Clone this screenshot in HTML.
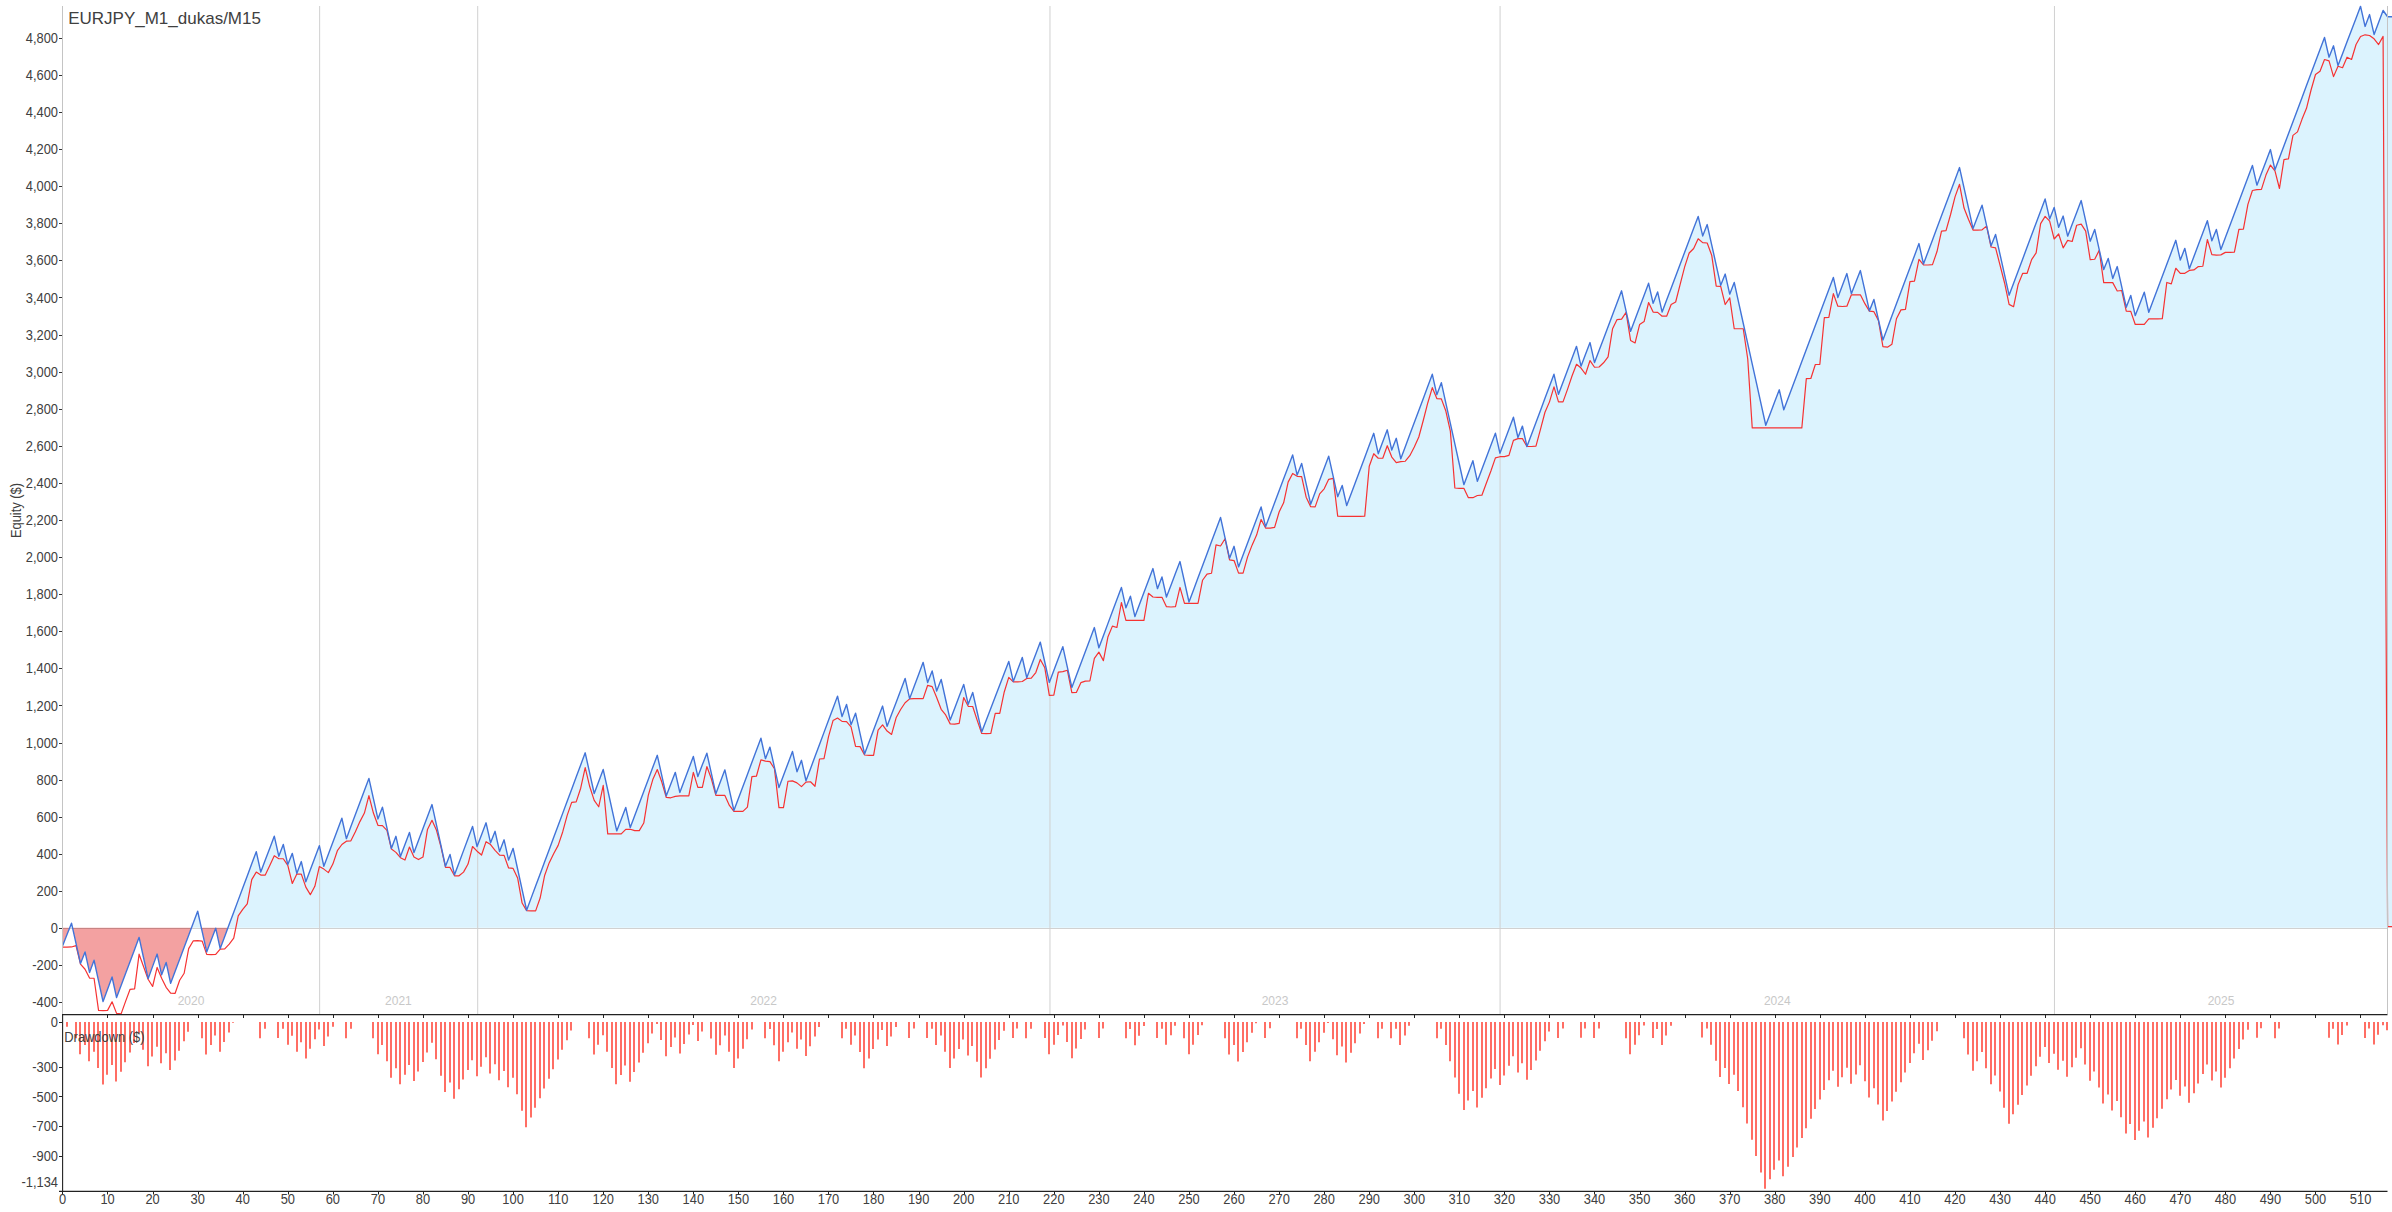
<!DOCTYPE html>
<html lang="en"><head><meta charset="utf-8"><title>EURJPY_M1_dukas/M15</title>
<style>html,body{margin:0;padding:0;background:#fff;}body{width:2392px;height:1212px;overflow:hidden;}svg{display:block;font-family:"Liberation Sans", Arial, sans-serif;}.t{font-size:14.4px;fill:#404040;}.yr{font-size:12px;fill:#c8c8c8;}</style></head><body>
<svg width="2392" height="1212" viewBox="0 0 2392 1212">
<rect width="2392" height="1212" fill="#fff"/>
<defs><clipPath id="cp"><rect x="62" y="0" width="2330" height="1014"/></clipPath><clipPath id="up"><rect x="0" y="0" width="2392" height="927.80"/></clipPath><clipPath id="dn"><rect x="0" y="927.80" width="2392" height="300"/></clipPath></defs>
<g clip-path="url(#cp)">
<path d="M62.50,927.80 L62.50,927.80 L67.01,927.80 L69.41,927.80 L71.51,922.44 L72.70,927.80 L76.02,927.80 L80.52,927.80 L85.03,927.80 L89.54,927.80 L94.04,927.80 L98.55,927.80 L103.05,927.80 L107.56,927.80 L112.07,927.80 L116.57,927.80 L121.08,927.80 L125.58,927.80 L130.09,927.80 L134.60,927.80 L139.10,927.80 L143.61,927.80 L148.11,927.80 L152.62,927.80 L157.13,927.80 L161.63,927.80 L166.14,927.80 L170.64,927.80 L175.15,927.80 L179.66,927.80 L184.16,927.80 L188.67,927.80 L191.22,927.80 L193.17,922.58 L197.68,910.57 L201.50,927.80 L202.19,927.80 L206.69,927.80 L211.20,927.80 L215.58,927.80 L215.70,927.46 L215.78,927.80 L220.21,927.80 L224.72,927.80 L227.68,927.80 L229.22,923.65 L233.73,911.54 L238.23,899.43 L242.74,887.33 L247.25,875.22 L251.75,863.11 L256.26,851.01 L260.76,871.41 L265.27,859.42 L269.78,847.44 L274.28,835.45 L278.79,855.52 L283.29,843.82 L287.80,863.88 L292.31,852.68 L296.81,872.74 L301.32,860.87 L305.82,881.11 L310.33,869.07 L314.84,857.03 L319.34,844.99 L323.85,865.55 L328.35,853.56 L332.86,841.56 L337.37,829.56 L341.87,817.56 L346.38,837.96 L350.88,825.92 L355.39,813.88 L359.90,801.84 L364.40,789.80 L368.91,777.76 L373.41,798.00 L377.92,818.23 L382.43,806.52 L386.93,827.09 L391.44,847.66 L395.94,835.62 L400.45,855.86 L404.96,843.82 L409.46,831.77 L413.97,851.84 L418.47,839.84 L422.98,827.85 L427.49,815.85 L431.99,803.85 L436.50,824.42 L441.00,844.99 L445.51,865.55 L450.02,853.68 L454.52,874.08 L459.03,862.00 L463.53,849.92 L468.04,837.84 L472.55,825.75 L477.05,845.82 L481.56,833.95 L486.06,822.08 L490.57,842.14 L495.08,830.60 L499.58,850.84 L504.09,839.13 L508.59,859.37 L513.10,847.66 L517.61,868.29 L522.11,888.91 L526.62,909.53 L531.12,897.43 L535.63,885.32 L540.14,873.21 L544.64,861.11 L549.15,849.00 L553.65,836.89 L558.16,824.78 L562.67,812.68 L567.17,800.57 L571.68,788.46 L576.18,776.36 L580.69,764.25 L585.20,752.14 L589.70,772.46 L594.21,792.78 L598.71,780.81 L603.22,768.83 L607.73,789.29 L612.23,809.75 L616.74,830.20 L621.24,818.50 L625.75,806.79 L630.26,826.86 L634.76,814.82 L639.27,802.78 L643.77,790.74 L648.28,778.70 L652.79,766.66 L657.29,754.62 L661.80,774.85 L666.30,795.09 L670.81,783.38 L675.32,771.67 L679.82,791.74 L684.33,779.76 L688.83,767.77 L693.34,755.79 L697.85,775.86 L702.35,764.15 L706.86,752.44 L711.36,772.76 L715.87,793.08 L720.38,781.12 L724.88,769.17 L729.39,789.48 L733.89,809.80 L738.40,797.76 L742.91,785.72 L747.41,773.68 L751.92,761.64 L756.42,749.60 L760.93,737.56 L765.44,757.96 L769.94,746.42 L774.45,766.66 L778.95,786.89 L783.46,774.85 L787.97,762.81 L792.47,750.77 L796.98,771.01 L801.48,759.63 L805.99,780.04 L810.50,767.95 L815.00,755.86 L819.51,743.77 L824.01,731.68 L828.52,719.60 L833.03,707.51 L837.53,695.42 L842.04,715.82 L846.54,703.78 L851.05,724.02 L855.56,712.48 L860.06,732.88 L864.57,753.28 L869.07,741.30 L873.58,729.33 L878.09,717.35 L882.59,705.37 L887.10,725.60 L891.60,713.64 L896.11,701.68 L900.62,689.72 L905.12,677.76 L909.63,697.93 L914.13,685.84 L918.64,673.75 L923.15,661.66 L927.65,681.84 L932.16,670.23 L936.66,690.40 L941.17,678.72 L945.68,699.03 L950.18,719.33 L954.69,707.47 L959.19,695.61 L963.70,683.75 L968.21,703.61 L972.71,691.77 L977.22,711.52 L981.72,731.26 L986.23,719.50 L990.74,707.74 L995.24,695.99 L999.75,684.23 L1004.25,672.48 L1008.76,660.72 L1013.27,680.74 L1017.77,668.76 L1022.28,656.79 L1026.78,677.04 L1031.29,665.17 L1035.80,653.30 L1040.30,641.42 L1044.81,661.57 L1049.31,681.72 L1053.82,669.80 L1058.33,657.87 L1062.83,645.94 L1067.34,666.34 L1071.84,686.74 L1076.35,674.77 L1080.86,662.79 L1085.36,650.82 L1089.87,638.85 L1094.37,626.88 L1098.88,647.03 L1103.39,634.97 L1107.89,622.92 L1112.40,610.87 L1116.90,598.81 L1121.41,586.76 L1125.92,607.16 L1130.42,595.45 L1134.93,615.86 L1139.43,603.86 L1143.94,591.86 L1148.45,579.86 L1152.95,567.86 L1157.46,587.93 L1161.96,576.22 L1166.47,596.29 L1170.98,584.47 L1175.48,572.66 L1179.99,560.84 L1184.49,581.07 L1189.00,601.31 L1193.51,589.22 L1198.01,577.13 L1202.52,565.04 L1207.02,552.96 L1211.53,540.87 L1216.04,528.78 L1220.54,516.69 L1225.05,537.09 L1229.55,557.49 L1234.06,545.62 L1238.57,566.19 L1243.07,554.20 L1247.58,542.22 L1252.08,530.23 L1256.59,518.24 L1261.10,506.26 L1265.60,526.16 L1270.11,514.16 L1274.61,502.17 L1279.12,490.17 L1283.63,478.17 L1288.13,466.18 L1292.64,454.18 L1297.14,474.42 L1301.65,462.71 L1306.16,483.11 L1310.66,503.51 L1315.17,491.52 L1319.67,479.52 L1324.18,467.52 L1328.69,455.52 L1333.19,475.75 L1337.70,495.99 L1342.20,484.78 L1346.71,504.85 L1351.22,492.81 L1355.72,480.77 L1360.23,468.73 L1364.73,456.69 L1369.24,444.65 L1373.75,432.61 L1378.25,453.01 L1382.76,441.06 L1387.26,429.10 L1391.77,449.33 L1396.28,437.63 L1400.78,458.03 L1405.29,445.97 L1409.79,433.90 L1414.30,421.84 L1418.81,409.77 L1423.31,397.71 L1427.82,385.64 L1432.32,373.58 L1436.83,393.98 L1441.34,381.94 L1445.84,402.34 L1450.35,422.74 L1454.85,443.15 L1459.36,463.55 L1463.87,483.95 L1468.37,471.99 L1472.88,460.04 L1477.38,480.60 L1481.89,468.56 L1486.40,456.52 L1490.90,444.48 L1495.41,432.44 L1499.91,452.51 L1504.42,440.53 L1508.93,428.54 L1513.43,416.56 L1517.94,436.79 L1522.44,425.42 L1526.95,445.82 L1531.46,433.78 L1535.96,421.74 L1540.47,409.70 L1544.97,397.66 L1549.48,385.62 L1553.99,373.58 L1558.49,393.65 L1563.00,381.65 L1567.50,369.65 L1572.01,357.65 L1576.52,345.65 L1581.02,365.45 L1585.53,353.66 L1590.03,341.88 L1594.54,361.86 L1599.05,349.90 L1603.55,337.94 L1608.06,325.98 L1612.56,314.02 L1617.07,302.06 L1621.58,290.10 L1626.08,310.34 L1630.59,330.57 L1635.09,318.57 L1639.60,306.57 L1644.11,294.58 L1648.61,282.58 L1653.12,302.64 L1657.62,291.27 L1662.13,311.34 L1666.64,299.38 L1671.14,287.43 L1675.65,275.47 L1680.15,263.51 L1684.66,251.56 L1689.17,239.60 L1693.67,227.64 L1698.18,215.69 L1702.68,235.25 L1707.19,223.88 L1711.70,244.12 L1716.20,264.35 L1720.71,284.58 L1725.21,273.38 L1729.72,293.45 L1734.23,281.74 L1738.73,302.14 L1743.24,322.54 L1747.74,342.95 L1752.25,363.35 L1756.76,383.75 L1761.26,404.15 L1765.77,424.55 L1770.27,412.73 L1774.78,400.92 L1779.29,389.10 L1783.79,409.03 L1788.30,397.00 L1792.80,384.98 L1797.31,372.95 L1801.82,360.92 L1806.32,348.89 L1810.83,336.86 L1815.33,324.84 L1819.84,312.81 L1824.35,300.78 L1828.85,288.75 L1833.36,276.72 L1837.86,296.79 L1842.37,284.84 L1846.88,272.88 L1851.38,292.95 L1855.89,281.41 L1860.39,269.87 L1864.90,290.02 L1869.41,310.17 L1873.91,298.80 L1878.42,319.03 L1882.92,339.27 L1887.43,327.22 L1891.94,315.17 L1896.44,303.12 L1900.95,291.07 L1905.45,279.02 L1909.96,266.98 L1914.47,254.93 L1918.97,242.88 L1923.48,263.28 L1927.98,251.23 L1932.49,239.18 L1937.00,227.13 L1941.50,215.09 L1946.01,203.04 L1950.51,190.99 L1955.02,178.94 L1959.53,166.89 L1964.03,187.20 L1968.54,207.52 L1973.04,227.83 L1977.55,216.17 L1982.06,204.52 L1986.56,224.75 L1991.07,244.99 L1995.57,233.78 L2000.08,254.02 L2004.59,274.25 L2009.09,294.48 L2013.60,282.46 L2018.10,270.45 L2022.61,258.43 L2027.12,246.41 L2031.62,234.39 L2036.13,222.37 L2040.63,210.35 L2045.14,198.33 L2049.65,218.23 L2054.15,206.69 L2058.66,226.59 L2063.16,215.39 L2067.67,235.45 L2072.18,223.58 L2076.68,211.71 L2081.19,199.84 L2085.69,220.15 L2090.20,240.47 L2094.71,228.76 L2099.21,248.83 L2103.72,268.90 L2108.22,257.69 L2112.73,277.76 L2117.24,265.89 L2121.74,286.21 L2126.25,306.52 L2130.75,294.82 L2135.26,314.89 L2139.77,303.18 L2144.27,291.47 L2148.78,311.54 L2153.28,299.56 L2157.79,287.57 L2162.30,275.59 L2166.80,263.60 L2171.31,251.62 L2175.81,239.63 L2180.32,259.37 L2184.83,247.66 L2189.33,268.06 L2193.84,256.06 L2198.34,244.07 L2202.85,232.07 L2207.36,220.07 L2211.86,240.14 L2216.37,228.76 L2220.87,248.83 L2225.38,236.82 L2229.89,224.80 L2234.39,212.78 L2238.90,200.77 L2243.40,188.75 L2247.91,176.73 L2252.42,164.72 L2256.92,184.45 L2261.43,172.58 L2265.93,160.70 L2270.44,148.83 L2274.95,169.07 L2279.45,157.04 L2283.96,145.02 L2288.46,133.00 L2292.97,120.97 L2297.48,108.95 L2301.98,96.93 L2306.49,84.90 L2310.99,72.88 L2315.50,60.86 L2320.01,48.83 L2324.51,36.81 L2329.02,56.49 L2333.52,45.12 L2338.03,64.85 L2342.54,53.01 L2347.04,41.17 L2351.55,29.33 L2356.05,17.49 L2360.56,5.65 L2365.07,25.72 L2369.57,13.88 L2374.08,33.75 L2378.58,21.77 L2383.09,9.80 L2387.60,16.02 L2392.00,16.02 L2392,927.80 Z" fill="#DCF3FE"/>
<path d="M62.50,927.80 L62.50,945.35 L67.01,933.90 L69.41,927.80 L71.51,927.80 L72.70,927.80 L76.02,942.68 L80.52,962.91 L85.03,951.21 L89.54,971.77 L94.04,959.57 L98.55,980.22 L103.05,1000.87 L107.56,988.58 L112.07,976.29 L116.57,996.86 L121.08,984.82 L125.58,972.78 L130.09,960.74 L134.60,948.70 L139.10,936.66 L143.61,957.31 L148.11,977.96 L152.62,965.67 L157.13,953.38 L161.63,974.12 L166.14,961.74 L170.64,982.64 L175.15,970.63 L179.66,958.62 L184.16,946.61 L188.67,934.60 L191.22,927.80 L193.17,927.80 L197.68,927.80 L201.50,927.80 L202.19,930.89 L206.69,951.21 L211.20,939.33 L215.58,927.80 L215.70,927.80 L215.78,927.80 L220.21,947.86 L224.72,935.75 L227.68,927.80 L229.22,927.80 L233.73,927.80 L238.23,927.80 L242.74,927.80 L247.25,927.80 L251.75,927.80 L256.26,927.80 L260.76,927.80 L265.27,927.80 L269.78,927.80 L274.28,927.80 L278.79,927.80 L283.29,927.80 L287.80,927.80 L292.31,927.80 L296.81,927.80 L301.32,927.80 L305.82,927.80 L310.33,927.80 L314.84,927.80 L319.34,927.80 L323.85,927.80 L328.35,927.80 L332.86,927.80 L337.37,927.80 L341.87,927.80 L346.38,927.80 L350.88,927.80 L355.39,927.80 L359.90,927.80 L364.40,927.80 L368.91,927.80 L373.41,927.80 L377.92,927.80 L382.43,927.80 L386.93,927.80 L391.44,927.80 L395.94,927.80 L400.45,927.80 L404.96,927.80 L409.46,927.80 L413.97,927.80 L418.47,927.80 L422.98,927.80 L427.49,927.80 L431.99,927.80 L436.50,927.80 L441.00,927.80 L445.51,927.80 L450.02,927.80 L454.52,927.80 L459.03,927.80 L463.53,927.80 L468.04,927.80 L472.55,927.80 L477.05,927.80 L481.56,927.80 L486.06,927.80 L490.57,927.80 L495.08,927.80 L499.58,927.80 L504.09,927.80 L508.59,927.80 L513.10,927.80 L517.61,927.80 L522.11,927.80 L526.62,927.80 L531.12,927.80 L535.63,927.80 L540.14,927.80 L544.64,927.80 L549.15,927.80 L553.65,927.80 L558.16,927.80 L562.67,927.80 L567.17,927.80 L571.68,927.80 L576.18,927.80 L580.69,927.80 L585.20,927.80 L589.70,927.80 L594.21,927.80 L598.71,927.80 L603.22,927.80 L607.73,927.80 L612.23,927.80 L616.74,927.80 L621.24,927.80 L625.75,927.80 L630.26,927.80 L634.76,927.80 L639.27,927.80 L643.77,927.80 L648.28,927.80 L652.79,927.80 L657.29,927.80 L661.80,927.80 L666.30,927.80 L670.81,927.80 L675.32,927.80 L679.82,927.80 L684.33,927.80 L688.83,927.80 L693.34,927.80 L697.85,927.80 L702.35,927.80 L706.86,927.80 L711.36,927.80 L715.87,927.80 L720.38,927.80 L724.88,927.80 L729.39,927.80 L733.89,927.80 L738.40,927.80 L742.91,927.80 L747.41,927.80 L751.92,927.80 L756.42,927.80 L760.93,927.80 L765.44,927.80 L769.94,927.80 L774.45,927.80 L778.95,927.80 L783.46,927.80 L787.97,927.80 L792.47,927.80 L796.98,927.80 L801.48,927.80 L805.99,927.80 L810.50,927.80 L815.00,927.80 L819.51,927.80 L824.01,927.80 L828.52,927.80 L833.03,927.80 L837.53,927.80 L842.04,927.80 L846.54,927.80 L851.05,927.80 L855.56,927.80 L860.06,927.80 L864.57,927.80 L869.07,927.80 L873.58,927.80 L878.09,927.80 L882.59,927.80 L887.10,927.80 L891.60,927.80 L896.11,927.80 L900.62,927.80 L905.12,927.80 L909.63,927.80 L914.13,927.80 L918.64,927.80 L923.15,927.80 L927.65,927.80 L932.16,927.80 L936.66,927.80 L941.17,927.80 L945.68,927.80 L950.18,927.80 L954.69,927.80 L959.19,927.80 L963.70,927.80 L968.21,927.80 L972.71,927.80 L977.22,927.80 L981.72,927.80 L986.23,927.80 L990.74,927.80 L995.24,927.80 L999.75,927.80 L1004.25,927.80 L1008.76,927.80 L1013.27,927.80 L1017.77,927.80 L1022.28,927.80 L1026.78,927.80 L1031.29,927.80 L1035.80,927.80 L1040.30,927.80 L1044.81,927.80 L1049.31,927.80 L1053.82,927.80 L1058.33,927.80 L1062.83,927.80 L1067.34,927.80 L1071.84,927.80 L1076.35,927.80 L1080.86,927.80 L1085.36,927.80 L1089.87,927.80 L1094.37,927.80 L1098.88,927.80 L1103.39,927.80 L1107.89,927.80 L1112.40,927.80 L1116.90,927.80 L1121.41,927.80 L1125.92,927.80 L1130.42,927.80 L1134.93,927.80 L1139.43,927.80 L1143.94,927.80 L1148.45,927.80 L1152.95,927.80 L1157.46,927.80 L1161.96,927.80 L1166.47,927.80 L1170.98,927.80 L1175.48,927.80 L1179.99,927.80 L1184.49,927.80 L1189.00,927.80 L1193.51,927.80 L1198.01,927.80 L1202.52,927.80 L1207.02,927.80 L1211.53,927.80 L1216.04,927.80 L1220.54,927.80 L1225.05,927.80 L1229.55,927.80 L1234.06,927.80 L1238.57,927.80 L1243.07,927.80 L1247.58,927.80 L1252.08,927.80 L1256.59,927.80 L1261.10,927.80 L1265.60,927.80 L1270.11,927.80 L1274.61,927.80 L1279.12,927.80 L1283.63,927.80 L1288.13,927.80 L1292.64,927.80 L1297.14,927.80 L1301.65,927.80 L1306.16,927.80 L1310.66,927.80 L1315.17,927.80 L1319.67,927.80 L1324.18,927.80 L1328.69,927.80 L1333.19,927.80 L1337.70,927.80 L1342.20,927.80 L1346.71,927.80 L1351.22,927.80 L1355.72,927.80 L1360.23,927.80 L1364.73,927.80 L1369.24,927.80 L1373.75,927.80 L1378.25,927.80 L1382.76,927.80 L1387.26,927.80 L1391.77,927.80 L1396.28,927.80 L1400.78,927.80 L1405.29,927.80 L1409.79,927.80 L1414.30,927.80 L1418.81,927.80 L1423.31,927.80 L1427.82,927.80 L1432.32,927.80 L1436.83,927.80 L1441.34,927.80 L1445.84,927.80 L1450.35,927.80 L1454.85,927.80 L1459.36,927.80 L1463.87,927.80 L1468.37,927.80 L1472.88,927.80 L1477.38,927.80 L1481.89,927.80 L1486.40,927.80 L1490.90,927.80 L1495.41,927.80 L1499.91,927.80 L1504.42,927.80 L1508.93,927.80 L1513.43,927.80 L1517.94,927.80 L1522.44,927.80 L1526.95,927.80 L1531.46,927.80 L1535.96,927.80 L1540.47,927.80 L1544.97,927.80 L1549.48,927.80 L1553.99,927.80 L1558.49,927.80 L1563.00,927.80 L1567.50,927.80 L1572.01,927.80 L1576.52,927.80 L1581.02,927.80 L1585.53,927.80 L1590.03,927.80 L1594.54,927.80 L1599.05,927.80 L1603.55,927.80 L1608.06,927.80 L1612.56,927.80 L1617.07,927.80 L1621.58,927.80 L1626.08,927.80 L1630.59,927.80 L1635.09,927.80 L1639.60,927.80 L1644.11,927.80 L1648.61,927.80 L1653.12,927.80 L1657.62,927.80 L1662.13,927.80 L1666.64,927.80 L1671.14,927.80 L1675.65,927.80 L1680.15,927.80 L1684.66,927.80 L1689.17,927.80 L1693.67,927.80 L1698.18,927.80 L1702.68,927.80 L1707.19,927.80 L1711.70,927.80 L1716.20,927.80 L1720.71,927.80 L1725.21,927.80 L1729.72,927.80 L1734.23,927.80 L1738.73,927.80 L1743.24,927.80 L1747.74,927.80 L1752.25,927.80 L1756.76,927.80 L1761.26,927.80 L1765.77,927.80 L1770.27,927.80 L1774.78,927.80 L1779.29,927.80 L1783.79,927.80 L1788.30,927.80 L1792.80,927.80 L1797.31,927.80 L1801.82,927.80 L1806.32,927.80 L1810.83,927.80 L1815.33,927.80 L1819.84,927.80 L1824.35,927.80 L1828.85,927.80 L1833.36,927.80 L1837.86,927.80 L1842.37,927.80 L1846.88,927.80 L1851.38,927.80 L1855.89,927.80 L1860.39,927.80 L1864.90,927.80 L1869.41,927.80 L1873.91,927.80 L1878.42,927.80 L1882.92,927.80 L1887.43,927.80 L1891.94,927.80 L1896.44,927.80 L1900.95,927.80 L1905.45,927.80 L1909.96,927.80 L1914.47,927.80 L1918.97,927.80 L1923.48,927.80 L1927.98,927.80 L1932.49,927.80 L1937.00,927.80 L1941.50,927.80 L1946.01,927.80 L1950.51,927.80 L1955.02,927.80 L1959.53,927.80 L1964.03,927.80 L1968.54,927.80 L1973.04,927.80 L1977.55,927.80 L1982.06,927.80 L1986.56,927.80 L1991.07,927.80 L1995.57,927.80 L2000.08,927.80 L2004.59,927.80 L2009.09,927.80 L2013.60,927.80 L2018.10,927.80 L2022.61,927.80 L2027.12,927.80 L2031.62,927.80 L2036.13,927.80 L2040.63,927.80 L2045.14,927.80 L2049.65,927.80 L2054.15,927.80 L2058.66,927.80 L2063.16,927.80 L2067.67,927.80 L2072.18,927.80 L2076.68,927.80 L2081.19,927.80 L2085.69,927.80 L2090.20,927.80 L2094.71,927.80 L2099.21,927.80 L2103.72,927.80 L2108.22,927.80 L2112.73,927.80 L2117.24,927.80 L2121.74,927.80 L2126.25,927.80 L2130.75,927.80 L2135.26,927.80 L2139.77,927.80 L2144.27,927.80 L2148.78,927.80 L2153.28,927.80 L2157.79,927.80 L2162.30,927.80 L2166.80,927.80 L2171.31,927.80 L2175.81,927.80 L2180.32,927.80 L2184.83,927.80 L2189.33,927.80 L2193.84,927.80 L2198.34,927.80 L2202.85,927.80 L2207.36,927.80 L2211.86,927.80 L2216.37,927.80 L2220.87,927.80 L2225.38,927.80 L2229.89,927.80 L2234.39,927.80 L2238.90,927.80 L2243.40,927.80 L2247.91,927.80 L2252.42,927.80 L2256.92,927.80 L2261.43,927.80 L2265.93,927.80 L2270.44,927.80 L2274.95,927.80 L2279.45,927.80 L2283.96,927.80 L2288.46,927.80 L2292.97,927.80 L2297.48,927.80 L2301.98,927.80 L2306.49,927.80 L2310.99,927.80 L2315.50,927.80 L2320.01,927.80 L2324.51,927.80 L2329.02,927.80 L2333.52,927.80 L2338.03,927.80 L2342.54,927.80 L2347.04,927.80 L2351.55,927.80 L2356.05,927.80 L2360.56,927.80 L2365.07,927.80 L2369.57,927.80 L2374.08,927.80 L2378.58,927.80 L2383.09,927.80 L2387.60,927.80 L2392.00,927.80 L2392,927.80 Z" fill="#F3A1A1"/>
</g>
<rect x="62" y="928" width="2325.5" height="1" fill="#000" fill-opacity="0.18"/>
<line x1="319.65" x2="319.65" y1="6" y2="1014" stroke="#d0d0d0" stroke-width="1"/>
<line x1="477.70" x2="477.70" y1="6" y2="1014" stroke="#d0d0d0" stroke-width="1"/>
<line x1="1049.97" x2="1049.97" y1="6" y2="1014" stroke="#d0d0d0" stroke-width="1"/>
<line x1="1500.07" x2="1500.07" y1="6" y2="1014" stroke="#d0d0d0" stroke-width="1"/>
<line x1="2054.45" x2="2054.45" y1="6" y2="1014" stroke="#d0d0d0" stroke-width="1"/>
<text class="yr" x="191.0" y="1005" text-anchor="middle">2020</text>
<text class="yr" x="398.4" y="1005" text-anchor="middle">2021</text>
<text class="yr" x="763.6" y="1005" text-anchor="middle">2022</text>
<text class="yr" x="1275.0" y="1005" text-anchor="middle">2023</text>
<text class="yr" x="1777.3" y="1005" text-anchor="middle">2024</text>
<text class="yr" x="2221.0" y="1005" text-anchor="middle">2025</text>
<g clip-path="url(#cp)" fill="none" stroke-linejoin="round">
<polyline points="62.50,947.16 67.01,947.16 71.51,946.96 76.02,945.65 80.52,964.21 85.03,969.23 89.54,978.06 94.04,978.26 98.55,1010.37 103.05,1010.57 107.56,1010.37 112.07,1001.84 116.57,1013.38 121.08,1013.88 125.58,1001.34 130.09,989.30 134.60,988.80 139.10,954.18 143.61,966.72 148.11,979.26 152.62,986.49 157.13,967.42 161.63,978.26 166.14,987.29 170.64,993.11 175.15,993.31 179.66,980.27 184.16,973.24 188.67,948.66 193.17,940.94 197.68,940.64 202.19,941.14 206.69,954.38 211.20,954.68 215.70,954.38 220.21,949.16 224.72,948.96 229.22,944.15 233.73,938.13 238.23,915.88 242.74,909.29 247.25,903.96 251.75,879.63 256.26,872.11 260.76,875.12 265.27,875.12 269.78,865.42 274.28,855.72 278.79,858.73 283.29,858.73 287.80,865.42 292.31,883.48 296.81,874.11 301.32,874.11 305.82,887.16 310.33,894.68 314.84,886.32 319.34,866.59 323.85,869.10 328.35,872.61 332.86,864.08 337.37,850.70 341.87,844.52 346.38,841.17 350.88,840.84 355.39,831.64 359.90,821.61 364.40,813.08 368.91,795.69 373.41,813.08 377.92,825.28 382.43,825.62 386.93,830.30 391.44,849.03 395.94,852.37 400.45,857.73 404.96,860.07 409.46,847.02 413.97,857.06 418.47,859.57 422.98,857.06 427.49,829.46 431.99,820.27 436.50,830.30 441.00,847.02 445.51,867.42 450.02,867.42 454.52,875.79 459.03,875.79 463.53,872.11 468.04,864.08 472.55,846.52 477.05,851.20 481.56,855.05 486.06,841.67 490.57,844.52 495.08,850.37 499.58,855.05 504.09,855.38 508.59,867.93 513.10,868.43 517.61,877.96 522.11,903.04 526.62,910.57 531.12,910.90 535.63,910.90 540.14,898.03 544.64,875.45 549.15,862.91 553.65,853.71 558.16,845.35 562.67,831.94 567.17,815.38 571.68,802.42 576.18,801.84 580.69,788.21 585.20,767.56 589.70,786.54 594.21,800.33 598.71,806.77 603.22,785.42 607.73,833.91 612.23,833.91 616.74,833.91 621.24,833.91 625.75,829.40 630.26,829.23 634.76,830.57 639.27,830.57 643.77,823.04 648.28,795.45 652.79,779.57 657.29,769.53 661.80,782.07 666.30,797.46 670.81,797.79 675.32,796.45 679.82,795.79 684.33,795.79 688.83,795.79 693.34,772.37 697.85,787.42 702.35,787.42 706.86,766.52 711.36,778.73 715.87,795.45 720.38,795.45 724.88,795.45 729.39,805.48 733.89,811.34 738.40,811.34 742.91,811.34 747.41,807.16 751.92,776.56 756.42,776.22 760.93,759.83 765.44,761.17 769.94,761.67 774.45,768.70 778.95,807.66 783.46,807.66 787.97,781.24 792.47,780.90 796.98,782.91 801.48,786.59 805.99,782.07 810.50,781.74 815.00,786.25 819.51,759.00 824.01,758.66 828.52,736.59 833.03,720.54 837.53,718.03 842.04,721.37 846.54,721.54 851.05,726.89 855.56,746.45 860.06,746.62 864.57,754.98 869.07,755.32 873.58,755.32 878.09,730.23 882.59,724.88 887.10,731.07 891.60,734.41 896.11,717.80 900.62,709.52 905.12,702.75 909.63,698.86 914.13,698.67 918.64,698.67 923.15,698.61 927.65,685.31 932.16,686.63 936.66,697.42 941.17,709.33 945.68,714.97 950.18,723.88 954.69,724.07 959.19,723.44 963.70,697.49 968.21,706.32 972.71,706.52 977.22,720.37 981.72,733.51 986.23,733.71 990.74,733.51 995.24,713.40 999.75,713.32 1004.25,691.97 1008.76,677.36 1013.27,681.81 1017.77,681.81 1022.28,681.50 1026.78,678.49 1031.29,678.05 1035.80,672.53 1040.30,659.49 1044.81,667.83 1049.31,695.36 1053.82,695.23 1058.33,672.09 1062.83,671.66 1067.34,670.21 1071.84,692.54 1076.35,692.41 1080.86,682.69 1085.36,681.12 1089.87,681.00 1094.37,658.42 1098.88,652.15 1103.39,660.62 1107.89,637.10 1112.40,626.13 1116.90,627.51 1121.41,602.51 1125.92,620.40 1130.42,620.40 1134.93,620.40 1139.43,620.40 1143.94,620.40 1148.45,593.31 1152.95,596.99 1157.46,597.32 1161.96,597.32 1166.47,606.69 1170.98,607.02 1175.48,606.69 1179.99,587.46 1184.49,603.34 1189.00,603.34 1193.51,603.34 1198.01,603.34 1202.52,580.27 1207.02,574.08 1211.53,573.24 1216.04,544.82 1220.54,545.99 1225.05,538.80 1229.55,559.87 1234.06,560.54 1238.57,573.08 1243.07,573.08 1247.58,556.86 1252.08,545.15 1256.59,535.12 1261.10,519.50 1265.60,528.03 1270.11,528.19 1274.61,527.44 1279.12,511.97 1283.63,502.78 1288.13,482.14 1292.64,473.44 1297.14,476.29 1301.65,476.62 1306.16,497.19 1310.66,506.72 1315.17,506.89 1319.67,493.85 1324.18,488.83 1328.69,479.30 1333.19,478.29 1337.70,516.09 1342.20,516.42 1346.71,516.42 1351.22,516.42 1355.72,516.42 1360.23,516.42 1364.73,516.09 1369.24,466.25 1373.75,453.71 1378.25,458.23 1382.76,458.23 1387.26,445.69 1391.77,457.06 1396.28,462.58 1400.78,461.57 1405.29,461.24 1409.79,455.72 1414.30,447.02 1418.81,436.99 1423.31,420.27 1427.82,402.71 1432.32,387.66 1436.83,398.53 1441.34,398.86 1445.84,411.07 1450.35,431.14 1454.85,487.99 1459.36,488.33 1463.87,488.33 1468.37,497.69 1472.88,497.69 1477.38,495.52 1481.89,495.18 1486.40,482.98 1490.90,470.94 1495.41,457.89 1499.91,456.72 1504.42,456.56 1508.93,455.38 1513.43,440.33 1517.94,438.66 1522.44,438.66 1526.95,446.52 1531.46,446.52 1535.96,446.19 1540.47,429.46 1544.97,412.24 1549.48,401.87 1553.99,386.82 1558.49,401.87 1563.00,401.87 1567.50,389.33 1572.01,375.95 1576.52,364.25 1581.02,368.08 1585.53,374.26 1590.03,360.55 1594.54,367.24 1599.05,366.99 1603.55,362.81 1608.06,356.96 1612.56,328.76 1617.07,319.57 1621.58,319.06 1626.08,312.37 1630.59,340.47 1635.09,342.98 1639.60,324.58 1644.11,321.57 1648.61,302.51 1653.12,312.04 1657.62,312.37 1662.13,316.22 1666.64,316.22 1671.14,304.52 1675.65,302.01 1680.15,284.45 1684.66,266.89 1689.17,253.01 1693.67,248.49 1698.18,238.80 1702.68,242.64 1707.19,242.98 1711.70,255.18 1716.20,286.12 1720.71,286.45 1725.21,304.52 1729.72,297.83 1734.23,328.76 1738.73,328.76 1743.24,328.76 1747.74,358.98 1752.25,427.93 1756.76,427.93 1761.26,427.93 1765.77,427.93 1770.27,427.93 1774.78,427.93 1779.29,427.93 1783.79,427.93 1788.30,427.93 1792.80,427.93 1797.31,427.93 1801.82,427.93 1806.32,378.62 1810.83,378.52 1815.33,364.48 1819.84,364.29 1824.35,317.56 1828.85,317.39 1833.36,293.65 1837.86,306.19 1842.37,306.52 1846.88,306.19 1851.38,294.82 1855.89,294.82 1860.39,294.82 1864.90,303.68 1869.41,311.20 1873.91,311.71 1878.42,320.40 1882.92,346.66 1887.43,347.16 1891.94,344.15 1896.44,318.73 1900.95,309.88 1905.45,309.46 1909.96,281.54 1914.47,281.20 1918.97,259.30 1923.48,264.90 1927.98,264.98 1932.49,264.65 1937.00,251.52 1941.50,231.04 1946.01,230.70 1950.51,214.73 1955.02,196.86 1959.53,184.31 1964.03,208.04 1968.54,219.58 1973.04,230.03 1977.55,230.03 1982.06,229.80 1986.56,226.12 1991.07,247.02 1995.57,247.86 2000.08,265.42 2004.59,282.98 2009.09,304.38 2013.60,306.72 2018.10,284.65 2022.61,273.44 2027.12,273.28 2031.62,259.57 2036.13,252.88 2040.63,223.61 2045.14,216.42 2049.65,221.10 2054.15,239.00 2058.66,233.98 2063.16,247.86 2067.67,240.33 2072.18,241.51 2076.68,225.28 2081.19,224.11 2085.69,231.14 2090.20,259.57 2094.71,259.23 2099.21,250.37 2103.72,282.64 2108.22,282.64 2112.73,282.64 2117.24,291.00 2121.74,290.50 2126.25,311.07 2130.75,311.40 2135.26,324.45 2139.77,324.45 2144.27,324.28 2148.78,318.93 2153.28,318.93 2157.79,318.93 2162.30,318.60 2166.80,282.47 2171.31,283.81 2175.81,268.26 2180.32,273.28 2184.83,273.28 2189.33,270.43 2193.84,269.93 2198.34,266.59 2202.85,266.25 2207.36,239.50 2211.86,254.55 2216.37,255.05 2220.87,254.88 2225.38,252.37 2229.89,252.37 2234.39,252.04 2238.90,229.46 2243.40,229.13 2247.91,204.38 2252.42,190.50 2256.92,189.67 2261.43,189.33 2265.93,175.12 2270.44,165.08 2274.95,170.94 2279.45,188.49 2283.96,159.57 2288.46,158.90 2292.97,135.38 2297.48,131.87 2301.98,119.33 2306.49,108.29 2310.99,90.23 2315.50,74.54 2320.01,71.21 2324.51,59.49 2329.02,60.86 2333.52,76.63 2338.03,66.27 2342.54,67.76 2347.04,57.24 2351.55,59.49 2356.05,44.52 2360.56,36.49 2365.07,34.81 2369.57,35.49 2374.08,38.82 2378.58,44.52 2383.09,36.41 2387.60,926.65 2392,926.65" stroke="#F63232" stroke-width="1.2"/>
<polyline points="62.50,946.05 67.01,934.60 71.51,923.14 76.02,943.38 80.52,963.61 85.03,951.91 89.54,972.47 94.04,960.27 98.55,980.92 103.05,1001.57 107.56,989.28 112.07,976.99 116.57,997.56 121.08,985.52 125.58,973.48 130.09,961.44 134.60,949.40 139.10,937.36 143.61,958.01 148.11,978.66 152.62,966.37 157.13,954.08 161.63,974.82 166.14,962.44 170.64,983.34 175.15,971.33 179.66,959.32 184.16,947.31 188.67,935.30 193.17,923.28 197.68,911.27 202.19,931.59 206.69,951.91 211.20,940.03 215.70,928.16 220.21,948.56 224.72,936.45 229.22,924.35 233.73,912.24 238.23,900.13 242.74,888.03 247.25,875.92 251.75,863.81 256.26,851.71 260.76,872.11 265.27,860.12 269.78,848.14 274.28,836.15 278.79,856.22 283.29,844.52 287.80,864.58 292.31,853.38 296.81,873.44 301.32,861.57 305.82,881.81 310.33,869.77 314.84,857.73 319.34,845.69 323.85,866.25 328.35,854.26 332.86,842.26 337.37,830.26 341.87,818.26 346.38,838.66 350.88,826.62 355.39,814.58 359.90,802.54 364.40,790.50 368.91,778.46 373.41,798.70 377.92,818.93 382.43,807.22 386.93,827.79 391.44,848.36 395.94,836.32 400.45,856.56 404.96,844.52 409.46,832.47 413.97,852.54 418.47,840.54 422.98,828.55 427.49,816.55 431.99,804.55 436.50,825.12 441.00,845.69 445.51,866.25 450.02,854.38 454.52,874.78 459.03,862.70 463.53,850.62 468.04,838.54 472.55,826.45 477.05,846.52 481.56,834.65 486.06,822.78 490.57,842.84 495.08,831.30 499.58,851.54 504.09,839.83 508.59,860.07 513.10,848.36 517.61,868.99 522.11,889.61 526.62,910.23 531.12,898.13 535.63,886.02 540.14,873.91 544.64,861.81 549.15,849.70 553.65,837.59 558.16,825.48 562.67,813.38 567.17,801.27 571.68,789.16 576.18,777.06 580.69,764.95 585.20,752.84 589.70,773.16 594.21,793.48 598.71,781.51 603.22,769.53 607.73,789.99 612.23,810.45 616.74,830.90 621.24,819.20 625.75,807.49 630.26,827.56 634.76,815.52 639.27,803.48 643.77,791.44 648.28,779.40 652.79,767.36 657.29,755.32 661.80,775.55 666.30,795.79 670.81,784.08 675.32,772.37 679.82,792.44 684.33,780.46 688.83,768.47 693.34,756.49 697.85,776.56 702.35,764.85 706.86,753.14 711.36,773.46 715.87,793.78 720.38,781.82 724.88,769.87 729.39,790.18 733.89,810.50 738.40,798.46 742.91,786.42 747.41,774.38 751.92,762.34 756.42,750.30 760.93,738.26 765.44,758.66 769.94,747.12 774.45,767.36 778.95,787.59 783.46,775.55 787.97,763.51 792.47,751.47 796.98,771.71 801.48,760.33 805.99,780.74 810.50,768.65 815.00,756.56 819.51,744.47 824.01,732.38 828.52,720.30 833.03,708.21 837.53,696.12 842.04,716.52 846.54,704.48 851.05,724.72 855.56,713.18 860.06,733.58 864.57,753.98 869.07,742.00 873.58,730.03 878.09,718.05 882.59,706.07 887.10,726.30 891.60,714.34 896.11,702.38 900.62,690.42 905.12,678.46 909.63,698.63 914.13,686.54 918.64,674.45 923.15,662.36 927.65,682.54 932.16,670.93 936.66,691.10 941.17,679.42 945.68,699.73 950.18,720.03 954.69,708.17 959.19,696.31 963.70,684.45 968.21,704.31 972.71,692.47 977.22,712.22 981.72,731.96 986.23,720.20 990.74,708.44 995.24,696.69 999.75,684.93 1004.25,673.18 1008.76,661.42 1013.27,681.44 1017.77,669.46 1022.28,657.49 1026.78,677.74 1031.29,665.87 1035.80,654.00 1040.30,642.12 1044.81,662.27 1049.31,682.42 1053.82,670.50 1058.33,658.57 1062.83,646.64 1067.34,667.04 1071.84,687.44 1076.35,675.47 1080.86,663.49 1085.36,651.52 1089.87,639.55 1094.37,627.58 1098.88,647.73 1103.39,635.67 1107.89,623.62 1112.40,611.57 1116.90,599.51 1121.41,587.46 1125.92,607.86 1130.42,596.15 1134.93,616.56 1139.43,604.56 1143.94,592.56 1148.45,580.56 1152.95,568.56 1157.46,588.63 1161.96,576.92 1166.47,596.99 1170.98,585.17 1175.48,573.36 1179.99,561.54 1184.49,581.77 1189.00,602.01 1193.51,589.92 1198.01,577.83 1202.52,565.74 1207.02,553.66 1211.53,541.57 1216.04,529.48 1220.54,517.39 1225.05,537.79 1229.55,558.19 1234.06,546.32 1238.57,566.89 1243.07,554.90 1247.58,542.92 1252.08,530.93 1256.59,518.94 1261.10,506.96 1265.60,526.86 1270.11,514.86 1274.61,502.87 1279.12,490.87 1283.63,478.87 1288.13,466.88 1292.64,454.88 1297.14,475.12 1301.65,463.41 1306.16,483.81 1310.66,504.21 1315.17,492.22 1319.67,480.22 1324.18,468.22 1328.69,456.22 1333.19,476.45 1337.70,496.69 1342.20,485.48 1346.71,505.55 1351.22,493.51 1355.72,481.47 1360.23,469.43 1364.73,457.39 1369.24,445.35 1373.75,433.31 1378.25,453.71 1382.76,441.76 1387.26,429.80 1391.77,450.03 1396.28,438.33 1400.78,458.73 1405.29,446.67 1409.79,434.60 1414.30,422.54 1418.81,410.47 1423.31,398.41 1427.82,386.34 1432.32,374.28 1436.83,394.68 1441.34,382.64 1445.84,403.04 1450.35,423.44 1454.85,443.85 1459.36,464.25 1463.87,484.65 1468.37,472.69 1472.88,460.74 1477.38,481.30 1481.89,469.26 1486.40,457.22 1490.90,445.18 1495.41,433.14 1499.91,453.21 1504.42,441.23 1508.93,429.24 1513.43,417.26 1517.94,437.49 1522.44,426.12 1526.95,446.52 1531.46,434.48 1535.96,422.44 1540.47,410.40 1544.97,398.36 1549.48,386.32 1553.99,374.28 1558.49,394.35 1563.00,382.35 1567.50,370.35 1572.01,358.35 1576.52,346.35 1581.02,366.15 1585.53,354.36 1590.03,342.58 1594.54,362.56 1599.05,350.60 1603.55,338.64 1608.06,326.68 1612.56,314.72 1617.07,302.76 1621.58,290.80 1626.08,311.04 1630.59,331.27 1635.09,319.27 1639.60,307.27 1644.11,295.28 1648.61,283.28 1653.12,303.34 1657.62,291.97 1662.13,312.04 1666.64,300.08 1671.14,288.13 1675.65,276.17 1680.15,264.21 1684.66,252.26 1689.17,240.30 1693.67,228.34 1698.18,216.39 1702.68,235.95 1707.19,224.58 1711.70,244.82 1716.20,265.05 1720.71,285.28 1725.21,274.08 1729.72,294.15 1734.23,282.44 1738.73,302.84 1743.24,323.24 1747.74,343.65 1752.25,364.05 1756.76,384.45 1761.26,404.85 1765.77,425.25 1770.27,413.43 1774.78,401.62 1779.29,389.80 1783.79,409.73 1788.30,397.70 1792.80,385.68 1797.31,373.65 1801.82,361.62 1806.32,349.59 1810.83,337.56 1815.33,325.54 1819.84,313.51 1824.35,301.48 1828.85,289.45 1833.36,277.42 1837.86,297.49 1842.37,285.54 1846.88,273.58 1851.38,293.65 1855.89,282.11 1860.39,270.57 1864.90,290.72 1869.41,310.87 1873.91,299.50 1878.42,319.73 1882.92,339.97 1887.43,327.92 1891.94,315.87 1896.44,303.82 1900.95,291.77 1905.45,279.72 1909.96,267.68 1914.47,255.63 1918.97,243.58 1923.48,263.98 1927.98,251.93 1932.49,239.88 1937.00,227.83 1941.50,215.79 1946.01,203.74 1950.51,191.69 1955.02,179.64 1959.53,167.59 1964.03,187.90 1968.54,208.22 1973.04,228.53 1977.55,216.87 1982.06,205.22 1986.56,225.45 1991.07,245.69 1995.57,234.48 2000.08,254.72 2004.59,274.95 2009.09,295.18 2013.60,283.16 2018.10,271.15 2022.61,259.13 2027.12,247.11 2031.62,235.09 2036.13,223.07 2040.63,211.05 2045.14,199.03 2049.65,218.93 2054.15,207.39 2058.66,227.29 2063.16,216.09 2067.67,236.15 2072.18,224.28 2076.68,212.41 2081.19,200.54 2085.69,220.85 2090.20,241.17 2094.71,229.46 2099.21,249.53 2103.72,269.60 2108.22,258.39 2112.73,278.46 2117.24,266.59 2121.74,286.91 2126.25,307.22 2130.75,295.52 2135.26,315.59 2139.77,303.88 2144.27,292.17 2148.78,312.24 2153.28,300.26 2157.79,288.27 2162.30,276.29 2166.80,264.30 2171.31,252.32 2175.81,240.33 2180.32,260.07 2184.83,248.36 2189.33,268.76 2193.84,256.76 2198.34,244.77 2202.85,232.77 2207.36,220.77 2211.86,240.84 2216.37,229.46 2220.87,249.53 2225.38,237.52 2229.89,225.50 2234.39,213.48 2238.90,201.47 2243.40,189.45 2247.91,177.43 2252.42,165.42 2256.92,185.15 2261.43,173.28 2265.93,161.40 2270.44,149.53 2274.95,169.77 2279.45,157.74 2283.96,145.72 2288.46,133.70 2292.97,121.67 2297.48,109.65 2301.98,97.63 2306.49,85.60 2310.99,73.58 2315.50,61.56 2320.01,49.53 2324.51,37.51 2329.02,57.19 2333.52,45.82 2338.03,65.55 2342.54,53.71 2347.04,41.87 2351.55,30.03 2356.05,18.19 2360.56,6.35 2365.07,26.42 2369.57,14.58 2374.08,34.45 2378.58,22.47 2383.09,10.50 2387.60,16.72 2392.00,16.72" stroke="#4273D8" stroke-width="1.4"/>
</g>
<line x1="62.5" x2="62.5" y1="6" y2="1014" stroke="#c4c4c4" stroke-width="1"/>
<line x1="2387.5" x2="2387.5" y1="6" y2="1014" stroke="#c4c4c4" stroke-width="1"/>
<line x1="59" x2="62" y1="1002.50" y2="1002.50" stroke="#333" stroke-width="1"/>
<text class="t" transform="translate(58.00,1007.28) scale(0.895,1)" text-anchor="end">-400</text>
<line x1="59" x2="62" y1="965.50" y2="965.50" stroke="#333" stroke-width="1"/>
<text class="t" transform="translate(58.00,970.19) scale(0.895,1)" text-anchor="end">-200</text>
<line x1="59" x2="62" y1="928.50" y2="928.50" stroke="#333" stroke-width="1"/>
<text class="t" transform="translate(58.00,933.10) scale(0.895,1)" text-anchor="end">0</text>
<line x1="59" x2="62" y1="891.50" y2="891.50" stroke="#333" stroke-width="1"/>
<text class="t" transform="translate(58.00,896.01) scale(0.895,1)" text-anchor="end">200</text>
<line x1="59" x2="62" y1="854.50" y2="854.50" stroke="#333" stroke-width="1"/>
<text class="t" transform="translate(58.00,858.92) scale(0.895,1)" text-anchor="end">400</text>
<line x1="59" x2="62" y1="817.50" y2="817.50" stroke="#333" stroke-width="1"/>
<text class="t" transform="translate(58.00,821.83) scale(0.895,1)" text-anchor="end">600</text>
<line x1="59" x2="62" y1="780.50" y2="780.50" stroke="#333" stroke-width="1"/>
<text class="t" transform="translate(58.00,784.74) scale(0.895,1)" text-anchor="end">800</text>
<line x1="59" x2="62" y1="743.50" y2="743.50" stroke="#333" stroke-width="1"/>
<text class="t" transform="translate(58.00,747.65) scale(0.895,1)" text-anchor="end">1,000</text>
<line x1="59" x2="62" y1="705.50" y2="705.50" stroke="#333" stroke-width="1"/>
<text class="t" transform="translate(58.00,710.56) scale(0.895,1)" text-anchor="end">1,200</text>
<line x1="59" x2="62" y1="668.50" y2="668.50" stroke="#333" stroke-width="1"/>
<text class="t" transform="translate(58.00,673.47) scale(0.895,1)" text-anchor="end">1,400</text>
<line x1="59" x2="62" y1="631.50" y2="631.50" stroke="#333" stroke-width="1"/>
<text class="t" transform="translate(58.00,636.38) scale(0.895,1)" text-anchor="end">1,600</text>
<line x1="59" x2="62" y1="594.50" y2="594.50" stroke="#333" stroke-width="1"/>
<text class="t" transform="translate(58.00,599.29) scale(0.895,1)" text-anchor="end">1,800</text>
<line x1="59" x2="62" y1="557.50" y2="557.50" stroke="#333" stroke-width="1"/>
<text class="t" transform="translate(58.00,562.20) scale(0.895,1)" text-anchor="end">2,000</text>
<line x1="59" x2="62" y1="520.50" y2="520.50" stroke="#333" stroke-width="1"/>
<text class="t" transform="translate(58.00,525.11) scale(0.895,1)" text-anchor="end">2,200</text>
<line x1="59" x2="62" y1="483.50" y2="483.50" stroke="#333" stroke-width="1"/>
<text class="t" transform="translate(58.00,488.02) scale(0.895,1)" text-anchor="end">2,400</text>
<line x1="59" x2="62" y1="446.50" y2="446.50" stroke="#333" stroke-width="1"/>
<text class="t" transform="translate(58.00,450.93) scale(0.895,1)" text-anchor="end">2,600</text>
<line x1="59" x2="62" y1="409.50" y2="409.50" stroke="#333" stroke-width="1"/>
<text class="t" transform="translate(58.00,413.84) scale(0.895,1)" text-anchor="end">2,800</text>
<line x1="59" x2="62" y1="372.50" y2="372.50" stroke="#333" stroke-width="1"/>
<text class="t" transform="translate(58.00,376.75) scale(0.895,1)" text-anchor="end">3,000</text>
<line x1="59" x2="62" y1="335.50" y2="335.50" stroke="#333" stroke-width="1"/>
<text class="t" transform="translate(58.00,339.66) scale(0.895,1)" text-anchor="end">3,200</text>
<line x1="59" x2="62" y1="297.50" y2="297.50" stroke="#333" stroke-width="1"/>
<text class="t" transform="translate(58.00,302.57) scale(0.895,1)" text-anchor="end">3,400</text>
<line x1="59" x2="62" y1="260.50" y2="260.50" stroke="#333" stroke-width="1"/>
<text class="t" transform="translate(58.00,265.48) scale(0.895,1)" text-anchor="end">3,600</text>
<line x1="59" x2="62" y1="223.50" y2="223.50" stroke="#333" stroke-width="1"/>
<text class="t" transform="translate(58.00,228.39) scale(0.895,1)" text-anchor="end">3,800</text>
<line x1="59" x2="62" y1="186.50" y2="186.50" stroke="#333" stroke-width="1"/>
<text class="t" transform="translate(58.00,191.30) scale(0.895,1)" text-anchor="end">4,000</text>
<line x1="59" x2="62" y1="149.50" y2="149.50" stroke="#333" stroke-width="1"/>
<text class="t" transform="translate(58.00,154.21) scale(0.895,1)" text-anchor="end">4,200</text>
<line x1="59" x2="62" y1="112.50" y2="112.50" stroke="#333" stroke-width="1"/>
<text class="t" transform="translate(58.00,117.12) scale(0.895,1)" text-anchor="end">4,400</text>
<line x1="59" x2="62" y1="75.50" y2="75.50" stroke="#333" stroke-width="1"/>
<text class="t" transform="translate(58.00,80.03) scale(0.895,1)" text-anchor="end">4,600</text>
<line x1="59" x2="62" y1="38.50" y2="38.50" stroke="#333" stroke-width="1"/>
<text class="t" transform="translate(58.00,42.94) scale(0.895,1)" text-anchor="end">4,800</text>
<text class="t" transform="translate(21,510.5) rotate(-90) scale(0.895,1)" text-anchor="middle">Equity ($)</text>
<text x="68.2" y="24.1" font-size="17" fill="#404040">EURJPY_M1_dukas/M15</text>
<path d="M66,1022h2v4.87h-2zM75,1022h2v16.15h-2zM79,1022h2v32.30h-2zM84,1022h2v22.95h-2zM88,1022h2v39.37h-2zM93,1022h2v29.63h-2zM97,1022h2v46.11h-2zM102,1022h2v62.59h-2zM106,1022h2v52.78h-2zM111,1022h2v42.97h-2zM115,1022h2v59.39h-2zM120,1022h2v49.78h-2zM124,1022h2v40.17h-2zM129,1022h2v30.56h-2zM133,1022h2v20.95h-2zM138,1022h2v11.34h-2zM142,1022h2v27.83h-2zM147,1022h2v44.31h-2zM151,1022h2v34.50h-2zM156,1022h2v24.69h-2zM160,1022h2v41.24h-2zM165,1022h2v31.36h-2zM169,1022h2v48.04h-2zM174,1022h2v38.46h-2zM178,1022h2v28.87h-2zM183,1022h2v19.28h-2zM187,1022h2v9.70h-2zM201,1022h2v16.21h-2zM205,1022h2v32.43h-2zM210,1022h2v22.95h-2zM214,1022h2v13.48h-2zM219,1022h2v29.76h-2zM223,1022h2v20.10h-2zM228,1022h2v10.44h-2zM232,1022h2v0.77h-2zM259,1022h2v16.28h-2zM264,1022h2v6.72h-2zM277,1022h2v16.01h-2zM282,1022h2v6.67h-2zM287,1022h2v22.69h-2zM291,1022h2v13.75h-2zM296,1022h2v29.76h-2zM300,1022h2v20.29h-2zM305,1022h2v36.43h-2zM309,1022h2v26.82h-2zM314,1022h2v17.22h-2zM318,1022h2v7.61h-2zM323,1022h2v24.02h-2zM327,1022h2v14.45h-2zM332,1022h2v4.87h-2zM345,1022h2v16.28h-2zM350,1022h2v6.67h-2zM372,1022h2v16.15h-2zM377,1022h2v32.30h-2zM381,1022h2v22.95h-2zM386,1022h2v39.37h-2zM390,1022h2v55.78h-2zM395,1022h2v46.18h-2zM399,1022h2v62.32h-2zM404,1022h2v52.71h-2zM408,1022h2v43.11h-2zM413,1022h2v59.12h-2zM417,1022h2v49.55h-2zM422,1022h2v39.97h-2zM426,1022h2v30.39h-2zM431,1022h2v20.82h-2zM435,1022h2v37.23h-2zM440,1022h2v53.65h-2zM444,1022h2v70.06h-2zM449,1022h2v60.59h-2zM453,1022h2v76.87h-2zM458,1022h2v67.23h-2zM462,1022h2v57.59h-2zM467,1022h2v47.94h-2zM471,1022h2v38.30h-2zM476,1022h2v54.32h-2zM480,1022h2v44.84h-2zM485,1022h2v35.37h-2zM489,1022h2v51.38h-2zM494,1022h2v42.17h-2zM498,1022h2v58.32h-2zM503,1022h2v48.98h-2zM507,1022h2v65.13h-2zM512,1022h2v55.78h-2zM516,1022h2v72.24h-2zM521,1022h2v88.70h-2zM525,1022h2v105.16h-2zM530,1022h2v95.50h-2zM534,1022h2v85.84h-2zM539,1022h2v76.18h-2zM543,1022h2v66.51h-2zM548,1022h2v56.85h-2zM552,1022h2v47.19h-2zM557,1022h2v37.53h-2zM561,1022h2v27.87h-2zM566,1022h2v18.20h-2zM570,1022h2v8.54h-2zM588,1022h2v16.21h-2zM593,1022h2v32.43h-2zM597,1022h2v22.87h-2zM602,1022h2v13.32h-2zM606,1022h2v29.64h-2zM611,1022h2v45.97h-2zM615,1022h2v62.30h-2zM620,1022h2v52.95h-2zM624,1022h2v43.61h-2zM629,1022h2v59.63h-2zM633,1022h2v50.02h-2zM638,1022h2v40.41h-2zM642,1022h2v30.80h-2zM647,1022h2v21.19h-2zM651,1022h2v11.58h-2zM656,1022h2v1.98h-2zM660,1022h2v18.12h-2zM665,1022h2v34.27h-2zM670,1022h2v24.93h-2zM674,1022h2v15.59h-2zM679,1022h2v31.60h-2zM683,1022h2v22.04h-2zM688,1022h2v12.47h-2zM692,1022h2v2.91h-2zM697,1022h2v18.92h-2zM701,1022h2v9.58h-2zM710,1022h2v16.45h-2zM715,1022h2v32.67h-2zM719,1022h2v23.13h-2zM724,1022h2v13.59h-2zM728,1022h2v29.80h-2zM733,1022h2v46.02h-2zM737,1022h2v36.41h-2zM742,1022h2v26.80h-2zM746,1022h2v17.19h-2zM751,1022h2v7.58h-2zM764,1022h2v16.28h-2zM769,1022h2v7.07h-2zM773,1022h2v23.22h-2zM778,1022h2v39.37h-2zM782,1022h2v29.76h-2zM787,1022h2v20.15h-2zM791,1022h2v10.54h-2zM796,1022h2v26.69h-2zM800,1022h2v17.62h-2zM805,1022h2v33.90h-2zM809,1022h2v24.25h-2zM814,1022h2v14.60h-2zM818,1022h2v4.96h-2zM841,1022h2v16.28h-2zM845,1022h2v6.67h-2zM850,1022h2v22.82h-2zM854,1022h2v13.61h-2zM859,1022h2v29.89h-2zM863,1022h2v46.18h-2zM868,1022h2v36.62h-2zM872,1022h2v27.06h-2zM877,1022h2v17.50h-2zM881,1022h2v7.94h-2zM886,1022h2v24.09h-2zM890,1022h2v14.54h-2zM895,1022h2v5.00h-2zM908,1022h2v16.09h-2zM913,1022h2v6.45h-2zM926,1022h2v16.10h-2zM931,1022h2v6.83h-2zM935,1022h2v22.94h-2zM940,1022h2v13.61h-2zM944,1022h2v29.82h-2zM949,1022h2v46.02h-2zM953,1022h2v36.56h-2zM958,1022h2v27.09h-2zM962,1022h2v17.62h-2zM967,1022h2v33.48h-2zM971,1022h2v24.03h-2zM976,1022h2v39.79h-2zM980,1022h2v55.54h-2zM985,1022h2v46.16h-2zM989,1022h2v36.78h-2zM994,1022h2v27.39h-2zM998,1022h2v18.01h-2zM1003,1022h2v8.63h-2zM1012,1022h2v15.97h-2zM1016,1022h2v6.42h-2zM1025,1022h2v16.16h-2zM1030,1022h2v6.69h-2zM1044,1022h2v16.08h-2zM1048,1022h2v32.16h-2zM1053,1022h2v22.64h-2zM1057,1022h2v13.12h-2zM1062,1022h2v3.60h-2zM1066,1022h2v19.88h-2zM1071,1022h2v36.17h-2zM1075,1022h2v26.61h-2zM1080,1022h2v17.06h-2zM1084,1022h2v7.50h-2zM1098,1022h2v16.08h-2zM1102,1022h2v6.46h-2zM1125,1022h2v16.28h-2zM1129,1022h2v6.94h-2zM1134,1022h2v23.22h-2zM1138,1022h2v13.65h-2zM1143,1022h2v4.07h-2zM1156,1022h2v16.01h-2zM1161,1022h2v6.67h-2zM1165,1022h2v22.69h-2zM1170,1022h2v13.26h-2zM1174,1022h2v3.83h-2zM1183,1022h2v16.15h-2zM1188,1022h2v32.30h-2zM1192,1022h2v22.65h-2zM1197,1022h2v13.00h-2zM1201,1022h2v3.36h-2zM1224,1022h2v16.28h-2zM1228,1022h2v32.56h-2zM1233,1022h2v23.09h-2zM1237,1022h2v39.50h-2zM1242,1022h2v29.94h-2zM1246,1022h2v20.37h-2zM1251,1022h2v10.80h-2zM1255,1022h2v1.24h-2zM1264,1022h2v15.88h-2zM1269,1022h2v6.31h-2zM1296,1022h2v16.15h-2zM1300,1022h2v6.81h-2zM1305,1022h2v23.09h-2zM1309,1022h2v39.37h-2zM1314,1022h2v29.79h-2zM1318,1022h2v20.22h-2zM1323,1022h2v10.64h-2zM1327,1022h2v1.07h-2zM1332,1022h2v17.22h-2zM1336,1022h2v33.36h-2zM1341,1022h2v24.42h-2zM1345,1022h2v40.44h-2zM1350,1022h2v30.83h-2zM1354,1022h2v21.22h-2zM1359,1022h2v11.61h-2zM1363,1022h2v2.00h-2zM1377,1022h2v16.28h-2zM1381,1022h2v6.74h-2zM1390,1022h2v16.15h-2zM1395,1022h2v6.81h-2zM1399,1022h2v23.09h-2zM1404,1022h2v13.46h-2zM1408,1022h2v3.83h-2zM1436,1022h2v16.28h-2zM1440,1022h2v6.67h-2zM1445,1022h2v22.95h-2zM1449,1022h2v39.24h-2zM1454,1022h2v55.52h-2zM1458,1022h2v71.80h-2zM1463,1022h2v88.08h-2zM1467,1022h2v78.54h-2zM1472,1022h2v69.00h-2zM1476,1022h2v85.41h-2zM1481,1022h2v75.80h-2zM1485,1022h2v66.19h-2zM1490,1022h2v56.58h-2zM1494,1022h2v46.98h-2zM1499,1022h2v62.99h-2zM1503,1022h2v53.43h-2zM1508,1022h2v43.86h-2zM1512,1022h2v34.30h-2zM1517,1022h2v50.45h-2zM1521,1022h2v41.37h-2zM1526,1022h2v57.65h-2zM1530,1022h2v48.04h-2zM1535,1022h2v38.43h-2zM1539,1022h2v28.83h-2zM1544,1022h2v19.22h-2zM1548,1022h2v9.61h-2zM1557,1022h2v16.01h-2zM1562,1022h2v6.44h-2zM1580,1022h2v15.80h-2zM1584,1022h2v6.39h-2zM1593,1022h2v15.95h-2zM1598,1022h2v6.40h-2zM1625,1022h2v16.15h-2zM1629,1022h2v32.30h-2zM1634,1022h2v22.72h-2zM1638,1022h2v13.15h-2zM1643,1022h2v3.57h-2zM1652,1022h2v16.01h-2zM1656,1022h2v6.94h-2zM1661,1022h2v22.95h-2zM1665,1022h2v13.41h-2zM1670,1022h2v3.87h-2zM1701,1022h2v15.61h-2zM1706,1022h2v6.54h-2zM1710,1022h2v22.69h-2zM1715,1022h2v38.84h-2zM1719,1022h2v54.98h-2zM1724,1022h2v46.04h-2zM1728,1022h2v62.06h-2zM1733,1022h2v52.71h-2zM1737,1022h2v69.00h-2zM1742,1022h2v85.28h-2zM1746,1022h2v101.56h-2zM1751,1022h2v117.84h-2zM1755,1022h2v134.12h-2zM1760,1022h2v150.40h-2zM1764,1022h2v166.68h-2zM1769,1022h2v157.25h-2zM1773,1022h2v147.82h-2zM1778,1022h2v138.39h-2zM1782,1022h2v154.30h-2zM1787,1022h2v144.70h-2zM1792,1022h2v135.10h-2zM1796,1022h2v125.50h-2zM1801,1022h2v115.90h-2zM1805,1022h2v106.31h-2zM1810,1022h2v96.71h-2zM1814,1022h2v87.11h-2zM1819,1022h2v77.51h-2zM1823,1022h2v67.91h-2zM1828,1022h2v58.31h-2zM1832,1022h2v48.71h-2zM1837,1022h2v64.73h-2zM1841,1022h2v55.18h-2zM1846,1022h2v45.64h-2zM1850,1022h2v61.66h-2zM1855,1022h2v52.45h-2zM1859,1022h2v43.24h-2zM1864,1022h2v59.32h-2zM1868,1022h2v75.40h-2zM1873,1022h2v66.33h-2zM1877,1022h2v82.47h-2zM1882,1022h2v98.62h-2zM1886,1022h2v89.01h-2zM1891,1022h2v79.39h-2zM1895,1022h2v69.78h-2zM1900,1022h2v60.16h-2zM1904,1022h2v50.55h-2zM1909,1022h2v40.93h-2zM1913,1022h2v31.32h-2zM1918,1022h2v21.70h-2zM1922,1022h2v37.98h-2zM1927,1022h2v28.37h-2zM1931,1022h2v18.75h-2zM1936,1022h2v9.13h-2zM1963,1022h2v16.21h-2zM1967,1022h2v32.42h-2zM1972,1022h2v48.63h-2zM1976,1022h2v39.33h-2zM1981,1022h2v30.03h-2zM1985,1022h2v46.18h-2zM1990,1022h2v62.32h-2zM1994,1022h2v53.38h-2zM1999,1022h2v69.53h-2zM2003,1022h2v85.68h-2zM2008,1022h2v101.83h-2zM2012,1022h2v92.23h-2zM2017,1022h2v82.64h-2zM2021,1022h2v73.05h-2zM2026,1022h2v63.46h-2zM2030,1022h2v53.87h-2zM2035,1022h2v44.27h-2zM2039,1022h2v34.68h-2zM2044,1022h2v25.09h-2zM2048,1022h2v40.97h-2zM2053,1022h2v31.76h-2zM2057,1022h2v47.64h-2zM2062,1022h2v38.70h-2zM2066,1022h2v54.72h-2zM2071,1022h2v45.24h-2zM2075,1022h2v35.77h-2zM2080,1022h2v26.29h-2zM2084,1022h2v42.51h-2zM2089,1022h2v58.72h-2zM2093,1022h2v49.38h-2zM2098,1022h2v65.39h-2zM2102,1022h2v81.41h-2zM2107,1022h2v72.47h-2zM2111,1022h2v88.48h-2zM2116,1022h2v79.01h-2zM2120,1022h2v95.22h-2zM2125,1022h2v111.43h-2zM2129,1022h2v102.09h-2zM2134,1022h2v118.11h-2zM2138,1022h2v108.77h-2zM2143,1022h2v99.42h-2zM2147,1022h2v115.44h-2zM2152,1022h2v105.87h-2zM2156,1022h2v96.31h-2zM2161,1022h2v86.75h-2zM2166,1022h2v77.18h-2zM2170,1022h2v67.62h-2zM2175,1022h2v58.05h-2zM2179,1022h2v73.80h-2zM2184,1022h2v64.46h-2zM2188,1022h2v80.74h-2zM2193,1022h2v71.16h-2zM2197,1022h2v61.59h-2zM2202,1022h2v52.01h-2zM2206,1022h2v42.44h-2zM2211,1022h2v58.45h-2zM2215,1022h2v49.38h-2zM2220,1022h2v65.39h-2zM2224,1022h2v55.80h-2zM2229,1022h2v46.21h-2zM2233,1022h2v36.62h-2zM2238,1022h2v27.03h-2zM2242,1022h2v17.44h-2zM2247,1022h2v7.85h-2zM2256,1022h2v15.75h-2zM2260,1022h2v6.27h-2zM2274,1022h2v16.15h-2zM2278,1022h2v6.55h-2zM2328,1022h2v15.71h-2zM2332,1022h2v6.63h-2zM2337,1022h2v22.38h-2zM2341,1022h2v12.93h-2zM2346,1022h2v3.48h-2zM2364,1022h2v16.01h-2zM2368,1022h2v6.57h-2zM2373,1022h2v22.42h-2zM2377,1022h2v12.87h-2zM2382,1022h2v3.31h-2zM2386,1022h2v8.27h-2z" fill="#FF6E64"/>
<line x1="62" x2="2387.5" y1="1014.6" y2="1014.6" stroke="#222" stroke-width="1.1"/>
<line x1="62.6" x2="62.6" y1="1014" y2="1191.5" stroke="#222" stroke-width="1.1"/>
<line x1="59" x2="2387.5" y1="1191.4" y2="1191.4" stroke="#222" stroke-width="1.1"/>
<line x1="62.50" x2="62.50" y1="1191.5" y2="1194.5" stroke="#222" stroke-width="1"/>
<text class="t" transform="translate(62.50,1204.40) scale(0.895,1)" text-anchor="middle">0</text>
<line x1="107.50" x2="107.50" y1="1015" y2="1018" stroke="#222" stroke-width="1"/>
<line x1="107.50" x2="107.50" y1="1191.5" y2="1194.5" stroke="#222" stroke-width="1"/>
<text class="t" transform="translate(107.56,1204.40) scale(0.895,1)" text-anchor="middle">10</text>
<line x1="153.50" x2="153.50" y1="1015" y2="1018" stroke="#222" stroke-width="1"/>
<line x1="153.50" x2="153.50" y1="1191.5" y2="1194.5" stroke="#222" stroke-width="1"/>
<text class="t" transform="translate(152.62,1204.40) scale(0.895,1)" text-anchor="middle">20</text>
<line x1="198.50" x2="198.50" y1="1015" y2="1018" stroke="#222" stroke-width="1"/>
<line x1="198.50" x2="198.50" y1="1191.5" y2="1194.5" stroke="#222" stroke-width="1"/>
<text class="t" transform="translate(197.68,1204.40) scale(0.895,1)" text-anchor="middle">30</text>
<line x1="243.50" x2="243.50" y1="1015" y2="1018" stroke="#222" stroke-width="1"/>
<line x1="243.50" x2="243.50" y1="1191.5" y2="1194.5" stroke="#222" stroke-width="1"/>
<text class="t" transform="translate(242.74,1204.40) scale(0.895,1)" text-anchor="middle">40</text>
<line x1="288.50" x2="288.50" y1="1015" y2="1018" stroke="#222" stroke-width="1"/>
<line x1="288.50" x2="288.50" y1="1191.5" y2="1194.5" stroke="#222" stroke-width="1"/>
<text class="t" transform="translate(287.80,1204.40) scale(0.895,1)" text-anchor="middle">50</text>
<line x1="333.50" x2="333.50" y1="1015" y2="1018" stroke="#222" stroke-width="1"/>
<line x1="333.50" x2="333.50" y1="1191.5" y2="1194.5" stroke="#222" stroke-width="1"/>
<text class="t" transform="translate(332.86,1204.40) scale(0.895,1)" text-anchor="middle">60</text>
<line x1="378.50" x2="378.50" y1="1015" y2="1018" stroke="#222" stroke-width="1"/>
<line x1="378.50" x2="378.50" y1="1191.5" y2="1194.5" stroke="#222" stroke-width="1"/>
<text class="t" transform="translate(377.92,1204.40) scale(0.895,1)" text-anchor="middle">70</text>
<line x1="423.50" x2="423.50" y1="1015" y2="1018" stroke="#222" stroke-width="1"/>
<line x1="423.50" x2="423.50" y1="1191.5" y2="1194.5" stroke="#222" stroke-width="1"/>
<text class="t" transform="translate(422.98,1204.40) scale(0.895,1)" text-anchor="middle">80</text>
<line x1="468.50" x2="468.50" y1="1015" y2="1018" stroke="#222" stroke-width="1"/>
<line x1="468.50" x2="468.50" y1="1191.5" y2="1194.5" stroke="#222" stroke-width="1"/>
<text class="t" transform="translate(468.04,1204.40) scale(0.895,1)" text-anchor="middle">90</text>
<line x1="513.50" x2="513.50" y1="1015" y2="1018" stroke="#222" stroke-width="1"/>
<line x1="513.50" x2="513.50" y1="1191.5" y2="1194.5" stroke="#222" stroke-width="1"/>
<text class="t" transform="translate(513.10,1204.40) scale(0.895,1)" text-anchor="middle">100</text>
<line x1="558.50" x2="558.50" y1="1015" y2="1018" stroke="#222" stroke-width="1"/>
<line x1="558.50" x2="558.50" y1="1191.5" y2="1194.5" stroke="#222" stroke-width="1"/>
<text class="t" transform="translate(558.16,1204.40) scale(0.895,1)" text-anchor="middle">110</text>
<line x1="603.50" x2="603.50" y1="1015" y2="1018" stroke="#222" stroke-width="1"/>
<line x1="603.50" x2="603.50" y1="1191.5" y2="1194.5" stroke="#222" stroke-width="1"/>
<text class="t" transform="translate(603.22,1204.40) scale(0.895,1)" text-anchor="middle">120</text>
<line x1="648.50" x2="648.50" y1="1015" y2="1018" stroke="#222" stroke-width="1"/>
<line x1="648.50" x2="648.50" y1="1191.5" y2="1194.5" stroke="#222" stroke-width="1"/>
<text class="t" transform="translate(648.28,1204.40) scale(0.895,1)" text-anchor="middle">130</text>
<line x1="693.50" x2="693.50" y1="1015" y2="1018" stroke="#222" stroke-width="1"/>
<line x1="693.50" x2="693.50" y1="1191.5" y2="1194.5" stroke="#222" stroke-width="1"/>
<text class="t" transform="translate(693.34,1204.40) scale(0.895,1)" text-anchor="middle">140</text>
<line x1="738.50" x2="738.50" y1="1015" y2="1018" stroke="#222" stroke-width="1"/>
<line x1="738.50" x2="738.50" y1="1191.5" y2="1194.5" stroke="#222" stroke-width="1"/>
<text class="t" transform="translate(738.40,1204.40) scale(0.895,1)" text-anchor="middle">150</text>
<line x1="783.50" x2="783.50" y1="1015" y2="1018" stroke="#222" stroke-width="1"/>
<line x1="783.50" x2="783.50" y1="1191.5" y2="1194.5" stroke="#222" stroke-width="1"/>
<text class="t" transform="translate(783.46,1204.40) scale(0.895,1)" text-anchor="middle">160</text>
<line x1="828.50" x2="828.50" y1="1015" y2="1018" stroke="#222" stroke-width="1"/>
<line x1="828.50" x2="828.50" y1="1191.5" y2="1194.5" stroke="#222" stroke-width="1"/>
<text class="t" transform="translate(828.52,1204.40) scale(0.895,1)" text-anchor="middle">170</text>
<line x1="873.50" x2="873.50" y1="1015" y2="1018" stroke="#222" stroke-width="1"/>
<line x1="873.50" x2="873.50" y1="1191.5" y2="1194.5" stroke="#222" stroke-width="1"/>
<text class="t" transform="translate(873.58,1204.40) scale(0.895,1)" text-anchor="middle">180</text>
<line x1="919.50" x2="919.50" y1="1015" y2="1018" stroke="#222" stroke-width="1"/>
<line x1="919.50" x2="919.50" y1="1191.5" y2="1194.5" stroke="#222" stroke-width="1"/>
<text class="t" transform="translate(918.64,1204.40) scale(0.895,1)" text-anchor="middle">190</text>
<line x1="964.50" x2="964.50" y1="1015" y2="1018" stroke="#222" stroke-width="1"/>
<line x1="964.50" x2="964.50" y1="1191.5" y2="1194.5" stroke="#222" stroke-width="1"/>
<text class="t" transform="translate(963.70,1204.40) scale(0.895,1)" text-anchor="middle">200</text>
<line x1="1009.50" x2="1009.50" y1="1015" y2="1018" stroke="#222" stroke-width="1"/>
<line x1="1009.50" x2="1009.50" y1="1191.5" y2="1194.5" stroke="#222" stroke-width="1"/>
<text class="t" transform="translate(1008.76,1204.40) scale(0.895,1)" text-anchor="middle">210</text>
<line x1="1054.50" x2="1054.50" y1="1015" y2="1018" stroke="#222" stroke-width="1"/>
<line x1="1054.50" x2="1054.50" y1="1191.5" y2="1194.5" stroke="#222" stroke-width="1"/>
<text class="t" transform="translate(1053.82,1204.40) scale(0.895,1)" text-anchor="middle">220</text>
<line x1="1099.50" x2="1099.50" y1="1015" y2="1018" stroke="#222" stroke-width="1"/>
<line x1="1099.50" x2="1099.50" y1="1191.5" y2="1194.5" stroke="#222" stroke-width="1"/>
<text class="t" transform="translate(1098.88,1204.40) scale(0.895,1)" text-anchor="middle">230</text>
<line x1="1144.50" x2="1144.50" y1="1015" y2="1018" stroke="#222" stroke-width="1"/>
<line x1="1144.50" x2="1144.50" y1="1191.5" y2="1194.5" stroke="#222" stroke-width="1"/>
<text class="t" transform="translate(1143.94,1204.40) scale(0.895,1)" text-anchor="middle">240</text>
<line x1="1189.50" x2="1189.50" y1="1015" y2="1018" stroke="#222" stroke-width="1"/>
<line x1="1189.50" x2="1189.50" y1="1191.5" y2="1194.5" stroke="#222" stroke-width="1"/>
<text class="t" transform="translate(1189.00,1204.40) scale(0.895,1)" text-anchor="middle">250</text>
<line x1="1234.50" x2="1234.50" y1="1015" y2="1018" stroke="#222" stroke-width="1"/>
<line x1="1234.50" x2="1234.50" y1="1191.5" y2="1194.5" stroke="#222" stroke-width="1"/>
<text class="t" transform="translate(1234.06,1204.40) scale(0.895,1)" text-anchor="middle">260</text>
<line x1="1279.50" x2="1279.50" y1="1015" y2="1018" stroke="#222" stroke-width="1"/>
<line x1="1279.50" x2="1279.50" y1="1191.5" y2="1194.5" stroke="#222" stroke-width="1"/>
<text class="t" transform="translate(1279.12,1204.40) scale(0.895,1)" text-anchor="middle">270</text>
<line x1="1324.50" x2="1324.50" y1="1015" y2="1018" stroke="#222" stroke-width="1"/>
<line x1="1324.50" x2="1324.50" y1="1191.5" y2="1194.5" stroke="#222" stroke-width="1"/>
<text class="t" transform="translate(1324.18,1204.40) scale(0.895,1)" text-anchor="middle">280</text>
<line x1="1369.50" x2="1369.50" y1="1015" y2="1018" stroke="#222" stroke-width="1"/>
<line x1="1369.50" x2="1369.50" y1="1191.5" y2="1194.5" stroke="#222" stroke-width="1"/>
<text class="t" transform="translate(1369.24,1204.40) scale(0.895,1)" text-anchor="middle">290</text>
<line x1="1414.50" x2="1414.50" y1="1015" y2="1018" stroke="#222" stroke-width="1"/>
<line x1="1414.50" x2="1414.50" y1="1191.5" y2="1194.5" stroke="#222" stroke-width="1"/>
<text class="t" transform="translate(1414.30,1204.40) scale(0.895,1)" text-anchor="middle">300</text>
<line x1="1459.50" x2="1459.50" y1="1015" y2="1018" stroke="#222" stroke-width="1"/>
<line x1="1459.50" x2="1459.50" y1="1191.5" y2="1194.5" stroke="#222" stroke-width="1"/>
<text class="t" transform="translate(1459.36,1204.40) scale(0.895,1)" text-anchor="middle">310</text>
<line x1="1504.50" x2="1504.50" y1="1015" y2="1018" stroke="#222" stroke-width="1"/>
<line x1="1504.50" x2="1504.50" y1="1191.5" y2="1194.5" stroke="#222" stroke-width="1"/>
<text class="t" transform="translate(1504.42,1204.40) scale(0.895,1)" text-anchor="middle">320</text>
<line x1="1549.50" x2="1549.50" y1="1015" y2="1018" stroke="#222" stroke-width="1"/>
<line x1="1549.50" x2="1549.50" y1="1191.5" y2="1194.5" stroke="#222" stroke-width="1"/>
<text class="t" transform="translate(1549.48,1204.40) scale(0.895,1)" text-anchor="middle">330</text>
<line x1="1594.50" x2="1594.50" y1="1015" y2="1018" stroke="#222" stroke-width="1"/>
<line x1="1594.50" x2="1594.50" y1="1191.5" y2="1194.5" stroke="#222" stroke-width="1"/>
<text class="t" transform="translate(1594.54,1204.40) scale(0.895,1)" text-anchor="middle">340</text>
<line x1="1640.50" x2="1640.50" y1="1015" y2="1018" stroke="#222" stroke-width="1"/>
<line x1="1640.50" x2="1640.50" y1="1191.5" y2="1194.5" stroke="#222" stroke-width="1"/>
<text class="t" transform="translate(1639.60,1204.40) scale(0.895,1)" text-anchor="middle">350</text>
<line x1="1685.50" x2="1685.50" y1="1015" y2="1018" stroke="#222" stroke-width="1"/>
<line x1="1685.50" x2="1685.50" y1="1191.5" y2="1194.5" stroke="#222" stroke-width="1"/>
<text class="t" transform="translate(1684.66,1204.40) scale(0.895,1)" text-anchor="middle">360</text>
<line x1="1730.50" x2="1730.50" y1="1015" y2="1018" stroke="#222" stroke-width="1"/>
<line x1="1730.50" x2="1730.50" y1="1191.5" y2="1194.5" stroke="#222" stroke-width="1"/>
<text class="t" transform="translate(1729.72,1204.40) scale(0.895,1)" text-anchor="middle">370</text>
<line x1="1775.50" x2="1775.50" y1="1015" y2="1018" stroke="#222" stroke-width="1"/>
<line x1="1775.50" x2="1775.50" y1="1191.5" y2="1194.5" stroke="#222" stroke-width="1"/>
<text class="t" transform="translate(1774.78,1204.40) scale(0.895,1)" text-anchor="middle">380</text>
<line x1="1820.50" x2="1820.50" y1="1015" y2="1018" stroke="#222" stroke-width="1"/>
<line x1="1820.50" x2="1820.50" y1="1191.5" y2="1194.5" stroke="#222" stroke-width="1"/>
<text class="t" transform="translate(1819.84,1204.40) scale(0.895,1)" text-anchor="middle">390</text>
<line x1="1865.50" x2="1865.50" y1="1015" y2="1018" stroke="#222" stroke-width="1"/>
<line x1="1865.50" x2="1865.50" y1="1191.5" y2="1194.5" stroke="#222" stroke-width="1"/>
<text class="t" transform="translate(1864.90,1204.40) scale(0.895,1)" text-anchor="middle">400</text>
<line x1="1910.50" x2="1910.50" y1="1015" y2="1018" stroke="#222" stroke-width="1"/>
<line x1="1910.50" x2="1910.50" y1="1191.5" y2="1194.5" stroke="#222" stroke-width="1"/>
<text class="t" transform="translate(1909.96,1204.40) scale(0.895,1)" text-anchor="middle">410</text>
<line x1="1955.50" x2="1955.50" y1="1015" y2="1018" stroke="#222" stroke-width="1"/>
<line x1="1955.50" x2="1955.50" y1="1191.5" y2="1194.5" stroke="#222" stroke-width="1"/>
<text class="t" transform="translate(1955.02,1204.40) scale(0.895,1)" text-anchor="middle">420</text>
<line x1="2000.50" x2="2000.50" y1="1015" y2="1018" stroke="#222" stroke-width="1"/>
<line x1="2000.50" x2="2000.50" y1="1191.5" y2="1194.5" stroke="#222" stroke-width="1"/>
<text class="t" transform="translate(2000.08,1204.40) scale(0.895,1)" text-anchor="middle">430</text>
<line x1="2045.50" x2="2045.50" y1="1015" y2="1018" stroke="#222" stroke-width="1"/>
<line x1="2045.50" x2="2045.50" y1="1191.5" y2="1194.5" stroke="#222" stroke-width="1"/>
<text class="t" transform="translate(2045.14,1204.40) scale(0.895,1)" text-anchor="middle">440</text>
<line x1="2090.50" x2="2090.50" y1="1015" y2="1018" stroke="#222" stroke-width="1"/>
<line x1="2090.50" x2="2090.50" y1="1191.5" y2="1194.5" stroke="#222" stroke-width="1"/>
<text class="t" transform="translate(2090.20,1204.40) scale(0.895,1)" text-anchor="middle">450</text>
<line x1="2135.50" x2="2135.50" y1="1015" y2="1018" stroke="#222" stroke-width="1"/>
<line x1="2135.50" x2="2135.50" y1="1191.5" y2="1194.5" stroke="#222" stroke-width="1"/>
<text class="t" transform="translate(2135.26,1204.40) scale(0.895,1)" text-anchor="middle">460</text>
<line x1="2180.50" x2="2180.50" y1="1015" y2="1018" stroke="#222" stroke-width="1"/>
<line x1="2180.50" x2="2180.50" y1="1191.5" y2="1194.5" stroke="#222" stroke-width="1"/>
<text class="t" transform="translate(2180.32,1204.40) scale(0.895,1)" text-anchor="middle">470</text>
<line x1="2225.50" x2="2225.50" y1="1015" y2="1018" stroke="#222" stroke-width="1"/>
<line x1="2225.50" x2="2225.50" y1="1191.5" y2="1194.5" stroke="#222" stroke-width="1"/>
<text class="t" transform="translate(2225.38,1204.40) scale(0.895,1)" text-anchor="middle">480</text>
<line x1="2270.50" x2="2270.50" y1="1015" y2="1018" stroke="#222" stroke-width="1"/>
<line x1="2270.50" x2="2270.50" y1="1191.5" y2="1194.5" stroke="#222" stroke-width="1"/>
<text class="t" transform="translate(2270.44,1204.40) scale(0.895,1)" text-anchor="middle">490</text>
<line x1="2315.50" x2="2315.50" y1="1015" y2="1018" stroke="#222" stroke-width="1"/>
<line x1="2315.50" x2="2315.50" y1="1191.5" y2="1194.5" stroke="#222" stroke-width="1"/>
<text class="t" transform="translate(2315.50,1204.40) scale(0.895,1)" text-anchor="middle">500</text>
<line x1="2360.50" x2="2360.50" y1="1015" y2="1018" stroke="#222" stroke-width="1"/>
<line x1="2360.50" x2="2360.50" y1="1191.5" y2="1194.5" stroke="#222" stroke-width="1"/>
<text class="t" transform="translate(2360.56,1204.40) scale(0.895,1)" text-anchor="middle">510</text>
<line x1="59" x2="62" y1="1022.50" y2="1022.50" stroke="#222" stroke-width="1"/>
<text class="t" transform="translate(58.00,1027.00) scale(0.895,1)" text-anchor="end">0</text>
<line x1="59" x2="62" y1="1067.50" y2="1067.50" stroke="#222" stroke-width="1"/>
<text class="t" transform="translate(58.00,1071.70) scale(0.895,1)" text-anchor="end">-300</text>
<line x1="59" x2="62" y1="1096.50" y2="1096.50" stroke="#222" stroke-width="1"/>
<text class="t" transform="translate(58.00,1101.50) scale(0.895,1)" text-anchor="end">-500</text>
<line x1="59" x2="62" y1="1126.50" y2="1126.50" stroke="#222" stroke-width="1"/>
<text class="t" transform="translate(58.00,1131.30) scale(0.895,1)" text-anchor="end">-700</text>
<line x1="59" x2="62" y1="1156.50" y2="1156.50" stroke="#222" stroke-width="1"/>
<text class="t" transform="translate(58.00,1161.10) scale(0.895,1)" text-anchor="end">-900</text>
<text class="t" transform="translate(58.00,1187.00) scale(0.895,1)" text-anchor="end">-1,134</text>
<text class="t" transform="translate(64.30,1041.90) scale(0.895,1)" text-anchor="start">Drawdown ($)</text>
</svg></body></html>
